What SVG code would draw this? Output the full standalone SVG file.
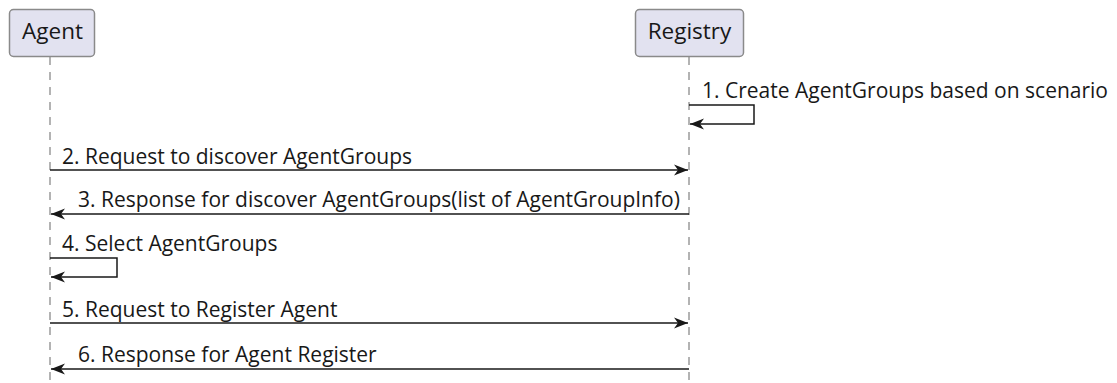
<svg xmlns="http://www.w3.org/2000/svg" width="1117" height="383" viewBox="0 0 1117 383">
<style>
.box{fill:#E2E2F0;stroke:#8a8a8a;stroke-width:1.5}
.pt{font-family:"Open Sans","Noto Sans",sans-serif;font-size:22.5px;fill:#181818;text-anchor:middle}
.life{stroke:#9a9a9a;stroke-width:1.5;stroke-dasharray:8 7;fill:none}
.msg{stroke:#181818;stroke-width:1.5;fill:none}
.ml{font-family:"Open Sans","Noto Sans",sans-serif;font-size:21px;fill:#181818}
</style>
<defs>
<marker id="ah" viewBox="0 0 16 12" refX="15" refY="6" markerWidth="16" markerHeight="12" orient="auto" markerUnits="userSpaceOnUse">
<path d="M1,0.5 L15,6 L1,11.5 L5,6 Z" fill="#181818"/>
</marker>
</defs>
<g id="lifelines">
<line class="life" x1="50" y1="57" x2="50" y2="383"/>
<line class="life" x1="689" y1="57" x2="689" y2="383"/>
</g>
<g id="agent">
<rect class="box" x="9.5" y="9.5" width="85" height="47" rx="4"/>
<text class="pt" x="52.5" y="39">Agent</text>
</g>
<g id="registry">
<rect class="box" x="635.5" y="9.5" width="108" height="47" rx="4"/>
<text class="pt" x="689.5" y="39">Registry</text>
</g>
<g id="connectors">
<path class="msg" d="M689,105 H754 V124 H690" marker-end="url(#ah)"/>
<text class="ml" x="702" y="98">1. Create AgentGroups based on scenario</text>
<line class="msg" x1="50" y1="170" x2="688" y2="170" marker-end="url(#ah)"/>
<text class="ml" x="62" y="164">2. Request to discover AgentGroups</text>
<line class="msg" x1="689" y1="214" x2="51" y2="214" marker-end="url(#ah)"/>
<text class="ml" x="78" y="207">3. Response for discover AgentGroups(list of AgentGroupInfo)</text>
<path class="msg" d="M50,258 H117 V277 H51" marker-end="url(#ah)"/>
<text class="ml" x="62" y="251">4. Select AgentGroups</text>
<line class="msg" x1="50" y1="323" x2="688" y2="323" marker-end="url(#ah)"/>
<text class="ml" x="62" y="317">5. Request to Register Agent</text>
<line class="msg" x1="689" y1="369" x2="51" y2="369" marker-end="url(#ah)"/>
<text class="ml" x="78" y="362">6. Response for Agent Register</text>
</g>
</svg>
